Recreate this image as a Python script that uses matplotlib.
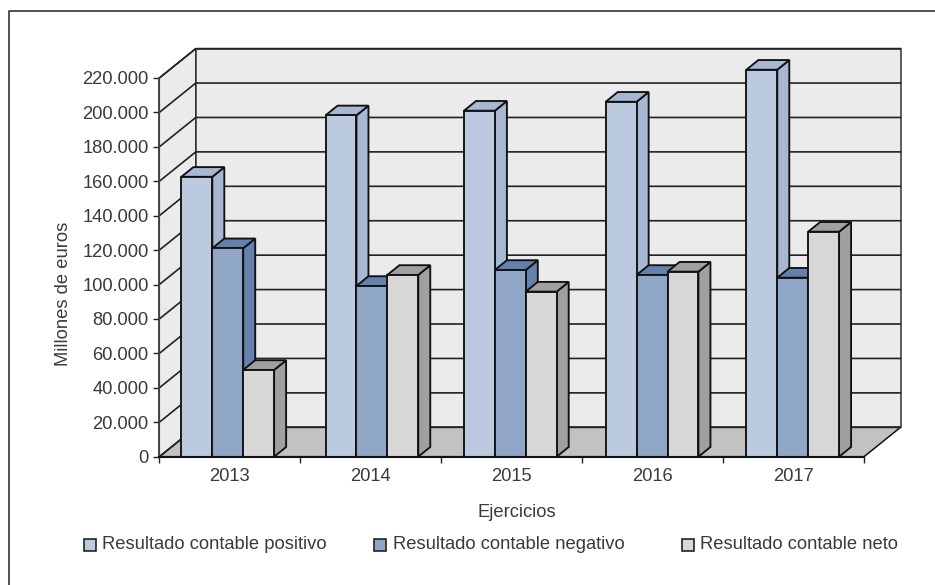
import matplotlib
matplotlib.use("Agg")
import matplotlib.pyplot as plt
from matplotlib.lines import Line2D
from matplotlib.patches import Polygon, Rectangle

plt.rcParams['font.family'] = ['Liberation Sans', 'DejaVu Sans']

years = ['2013', '2014', '2015', '2016', '2017']
positivo = [162600, 198300, 201000, 206200, 224800]
negativo = [121100, 99200, 108500, 105600, 104000]
neto = [50400, 105600, 95900, 107500, 130700]
y_ticks = list(range(0, 220001, 20000))
y_labels = ['0' if v == 0 else f'{v // 1000}.000' for v in y_ticks]
series_names = ['Resultado contable positivo', 'Resultado contable negativo', 'Resultado contable neto']

W, H = 935, 585
TEXT = '#3a3a3a'
EDGE = '#111111'
FRONT = ['#BCCADF', '#90A6C6', '#D7D7D7']
SHADE = ['#A8B8D2', '#6480AC', '#A0A0A0']

fig = plt.figure(figsize=(W / 100, H / 100), dpi=100, facecolor='white')

# front plane of the chart box, in pixels
X0, X1, Y0, Y1 = 159.3, 864.0, 456.7, 78.0
ax = fig.add_axes([X0 / W, 1 - Y0 / H, (X1 - X0) / W, (Y0 - Y1) / H])
ax.set_xlim(0, 5)
ax.set_ylim(0, 220000)
ax.patch.set_visible(False)
for s in ax.spines.values():
    s.set_visible(False)

ux = (X1 - X0) / 5            # pixels per category
uy = (Y0 - Y1) / 220000       # pixels per unit of value
wall_dx, wall_dy = 36.5 / ux, 29.4 / uy
bar_dx, bar_dy = 12.0 / ux, 9.7 / uy
bar_w = 30.9 / ux
group_shift = [-2.0, 1.2, -1.3, -0.5, -0.8]   # small per-group pixel adjustment


def poly(pts, fc, ec=EDGE, lw=1.35, z=1):
    ax.add_patch(Polygon(pts, closed=True, facecolor=fc, edgecolor=ec, linewidth=lw,
                         joinstyle='miter', clip_on=False, zorder=z))


# floor and walls of the box
poly([(0, 0), (5, 0), (5 + wall_dx, wall_dy), (wall_dx, wall_dy)], '#C2C2C2', lw=1.1)
poly([(0, 0), (wall_dx, wall_dy), (wall_dx, 220000 + wall_dy), (0, 220000)], '#EBEBEB', ec='#333333', lw=1.1)
poly([(wall_dx, wall_dy), (5 + wall_dx, wall_dy), (5 + wall_dx, 220000 + wall_dy), (wall_dx, 220000 + wall_dy)],
     '#EBEBEB', ec='#333333', lw=1.1)

# gridlines running along the left wall and the back wall
for v in y_ticks:
    ax.plot([0, wall_dx, 5 + wall_dx], [v, v + wall_dy, v + wall_dy], color='#222222', lw=1.2,
            solid_joinstyle='miter', clip_on=False, zorder=2)

# bars, painted left to right so each one covers its neighbour's side face
z = 3
for i in range(len(years)):
    for j, values in enumerate([positivo, negativo, neto]):
        v = values[i]
        x = i + 0.5 + group_shift[i] / ux + (j - 1.5) * bar_w
        r = x + bar_w
        poly([(r, 0), (r + bar_dx, bar_dy), (r + bar_dx, v + bar_dy), (r, v)], SHADE[j], z=z)
        poly([(x, v), (r, v), (r + bar_dx, v + bar_dy), (x + bar_dx, v + bar_dy)], SHADE[j], z=z)
        poly([(x, 0), (r, 0), (r, v), (x, v)], FRONT[j], z=z)
        z += 1

# front axis lines
ax.plot([0, 0], [0, 220000], color='#444444', lw=1.3, clip_on=False, zorder=z)
ax.plot([0, 5], [0, 0], color='#111111', lw=1.5, clip_on=False, zorder=z)

ax.set_yticks(y_ticks, y_labels)
ax.set_xticks(range(6), [''] * 6)
ax.set_xticks([i + 0.5 for i in range(5)], years, minor=True)
ax.tick_params(axis='y', length=4.5, width=1, color='#222222', pad=3.2, labelsize=13.2, labelcolor=TEXT)
ax.tick_params(axis='x', which='major', length=4.5, width=1, color='#222222')
ax.tick_params(axis='x', which='minor', length=0, pad=8.2, labelsize=13.2, labelcolor=TEXT)


def ftext(x, y, s, **kw):
    fig.text(x / W, 1 - y / H, s, color=TEXT, fontsize=13.2, va='center', **kw)


ftext(64, 294, 'Millones de euros', rotation=90, ha='center')
ftext(517, 512.5, 'Ejercicios', ha='center')

# legend row
for sx, tx, name, fc in zip([83.5, 373.5, 681.7], [102.5, 393, 700.5], series_names, FRONT):
    fig.add_artist(Rectangle((sx / W, 1 - 550.5 / H), 12 / W, 12 / H, transform=fig.transFigure,
                             facecolor=fc, edgecolor='#222222', linewidth=1.2))
    ftext(tx, 544.5, name, ha='left')

# outer frame, open towards the right and bottom edges
fig.add_artist(Line2D([8.5 / W, 8.5 / W, 1], [0, 1 - 10.5 / H, 1 - 10.5 / H],
                      transform=fig.transFigure, color='#222222', lw=1.1))

fig.savefig('out.png', dpi=100)
